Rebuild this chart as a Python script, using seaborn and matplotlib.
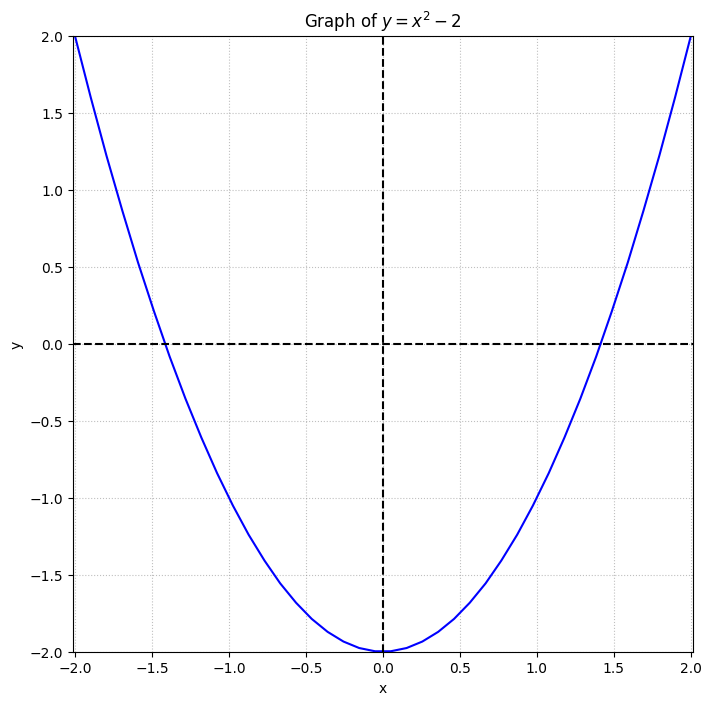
"""
Graph of y = x^2 - 2
"""

import matplotlib
matplotlib.use("Agg")
import matplotlib.pyplot as plt
import seaborn as sns
import pandas as pd

# Points
x_vals = [-2.000, -1.897, -1.795, -1.692, -1.590, -1.487, -1.385, -1.282, -1.179, -1.077,
          -0.974, -0.872, -0.769, -0.667, -0.564, -0.462, -0.359, -0.256, -0.154, -0.051,
          0.051, 0.154, 0.256, 0.359, 0.462, 0.564, 0.667, 0.769, 0.872, 0.974,
          1.077, 1.179, 1.282, 1.385, 1.487, 1.590, 1.692, 1.795, 1.897, 2.000]
y_vals = [2.000, 1.599, 1.221, 0.864, 0.527, 0.212, -0.083, -0.357, -0.609, -0.840,
          -1.051, -1.240, -1.408, -1.556, -1.682, -1.787, -1.871, -1.934, -1.976, -1.997,
          -1.997, -1.976, -1.934, -1.871, -1.787, -1.682, -1.556, -1.408, -1.240, -1.051,
          -0.840, -0.609, -0.357, -0.083, 0.212, 0.527, 0.864, 1.221, 1.599, 2.000]

df = pd.DataFrame({"x": x_vals, "y": y_vals})

fig, ax = plt.subplots(figsize=(8, 8), dpi=100)
sns.lineplot(data=df, x="x", y="y", color="blue", linewidth=1.5, ax=ax, sort=False)

ax.axhline(0, color="black", linestyle="--", linewidth=1.5)
ax.axvline(0, color="black", linestyle="--", linewidth=1.5)

ax.set_xlim(-2, 2)
ax.set_ylim(-2, 2)
ax.set_aspect("equal", adjustable="datalim")
ax.grid(True, linestyle=":", color="gray", alpha=0.5)
ax.set_title("Graph of $y = x^2 - 2$")
ax.set_xlabel("x")
ax.set_ylabel("y")

plt.savefig("out.png", dpi=100, bbox_inches="tight")
plt.close()
